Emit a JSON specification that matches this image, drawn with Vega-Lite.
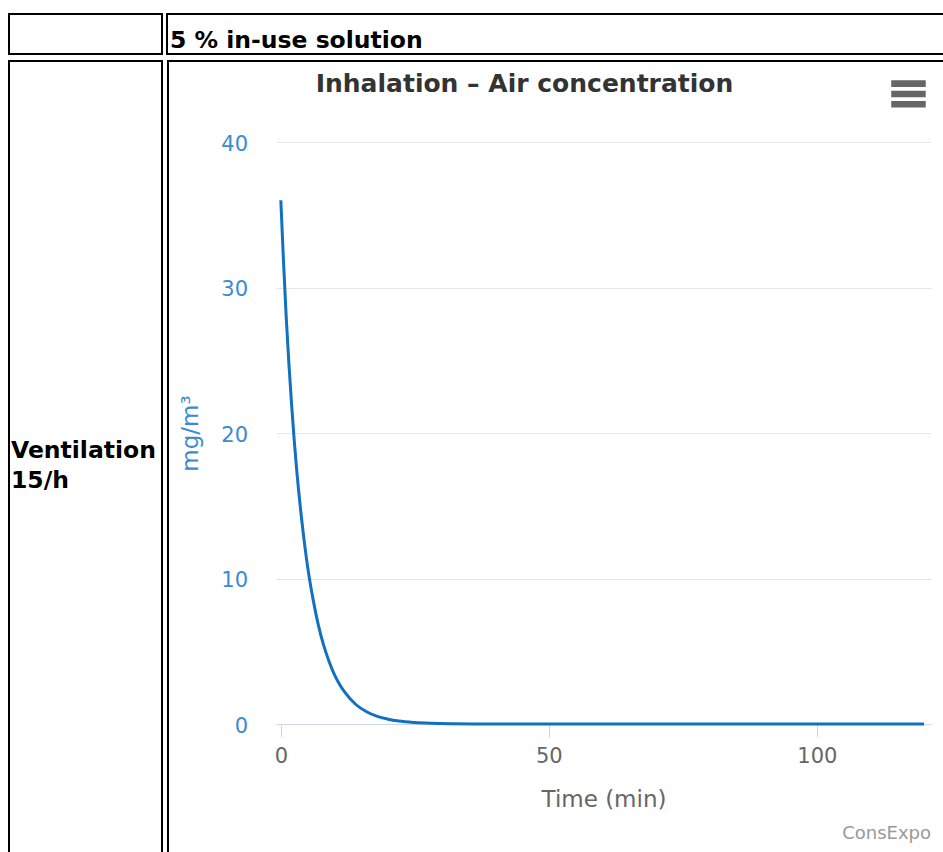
{
  "$schema": "https://vega.github.io/schema/vega-lite/v6.json",
  "padding": {"left": 8, "top": 13, "right": 0, "bottom": 0},
  "background": "white",
  "config": {
    "view": {"stroke": "black", "strokeWidth": 2},
    "font": "DejaVu Sans"
  },
  "spacing": 3,
  "hconcat": [
    {
      "spacing": 5,
      "vconcat": [
        {
          "width": 153,
          "height": 40,
          "view": {"stroke": "black", "strokeWidth": 2, "fill": null},
          "data": {"values": []},
          "mark": {"type": "point"},
          "encoding": {}
        },
        {
          "width": 153,
          "height": 793,
          "view": {"stroke": "black", "strokeWidth": 2, "fill": null},
          "data": {"values": [{"label": "Ventilation\n15/h"}]},
          "mark": {"type": "text", "align": "left", "baseline": "alphabetic", "x": 2, "y": 397, "lineBreak": "\n", "lineHeight": 30, "font": "DejaVu Sans", "fontSize": 23.5, "fontWeight": "bold", "color": "black"},
          "encoding": {"text": {"field": "label"}}
        }
      ]
    },
    {
      "spacing": 5,
      "vconcat": [
        {
          "width": 777,
          "height": 40,
          "view": {"stroke": "black", "strokeWidth": 2, "fill": null},
          "data": {"values": [{"label": "5 % in-use solution"}]},
          "mark": {"type": "text", "align": "left", "baseline": "alphabetic", "x": 3, "y": 34, "font": "DejaVu Sans", "fontSize": 23.5, "fontWeight": "bold", "color": "black"},
          "encoding": {"text": {"field": "label"}}
        },
        {
          "spacing": 0,
          "hconcat": [
            {
              "width": 2,
              "height": 796,
              "view": {"fill": "black", "stroke": null},
              "data": {"values": []},
              "mark": {"type": "point"},
              "encoding": {}
            },
            {
              "spacing": 9,
              "vconcat": [
                {
                  "width": 777,
                  "height": 2,
                  "view": {"fill": "black", "stroke": null},
                  "data": {"values": []},
                  "mark": {"type": "point"},
                  "encoding": {}
                },
                {
                  "spacing": 9,
                  "title": {"text": "ConsExpo", "orient": "bottom", "anchor": "end", "baseline": "alphabetic", "offset": 28, "fontSize": 18, "color": "#999999", "fontWeight": "normal", "font": "DejaVu Sans"},
                  "hconcat": [
                    {
                      "width": 1,
                      "height": 1,
                      "view": {"stroke": null, "fill": null},
                      "data": {"values": []},
                      "mark": {"type": "point"},
                      "encoding": {}
                    },
                    {
                      "width": 655,
                      "height": 582,
                      "view": {"stroke": null, "fill": null},
                      "title": {"text": "Inhalation – Air concentration", "anchor": "middle", "frame": "group", "dx": -79, "offset": -36.5, "baseline": "alphabetic", "fontSize": 25, "fontWeight": "bold", "color": "#333333", "font": "DejaVu Sans"},
                      "layer": [
                        {
                          "data": {"values": [
                            {"time": 0, "conc": 36.0},
                            {"time": 0.5, "conc": 31.8},
                            {"time": 1, "conc": 28.0},
                            {"time": 1.5, "conc": 24.8},
                            {"time": 2, "conc": 22.0},
                            {"time": 2.5, "conc": 19.5},
                            {"time": 3, "conc": 17.3},
                            {"time": 4, "conc": 13.7},
                            {"time": 5, "conc": 10.8},
                            {"time": 6, "conc": 8.6},
                            {"time": 7, "conc": 6.8},
                            {"time": 8, "conc": 5.4},
                            {"time": 9, "conc": 4.3},
                            {"time": 10, "conc": 3.4},
                            {"time": 11, "conc": 2.7},
                            {"time": 12, "conc": 2.15},
                            {"time": 14, "conc": 1.34},
                            {"time": 16, "conc": 0.84},
                            {"time": 18, "conc": 0.52},
                            {"time": 20, "conc": 0.33},
                            {"time": 22, "conc": 0.2},
                            {"time": 25, "conc": 0.1},
                            {"time": 28, "conc": 0.05},
                            {"time": 32, "conc": 0.02},
                            {"time": 36, "conc": 0.008},
                            {"time": 40, "conc": 0.003},
                            {"time": 50, "conc": 0},
                            {"time": 60, "conc": 0},
                            {"time": 80, "conc": 0},
                            {"time": 100, "conc": 0},
                            {"time": 120, "conc": 0}
                          ]},
                          "mark": {"type": "line", "color": "#1170c0", "strokeWidth": 3, "interpolate": "monotone"},
                          "encoding": {
                            "x": {
                              "field": "time", "type": "quantitative",
                              "scale": {"domain": [-0.9, 121.3], "nice": false, "zero": false},
                              "axis": {"title": "Time (min)", "values": [0, 50, 100], "grid": false, "domainColor": "#ccd6eb", "tickColor": "#ccd6eb", "tickSize": 13, "labelFontSize": 21, "labelColor": "#666666", "labelPadding": 8, "labelFont": "DejaVu Sans", "titleFontSize": 23, "titleColor": "#666666", "titleFontWeight": "normal", "titleFont": "DejaVu Sans", "titlePadding": 22}
                            },
                            "y": {
                              "field": "conc", "type": "quantitative",
                              "scale": {"domain": [0, 40], "nice": false},
                              "axis": {"title": "mg/m³", "values": [0, 10, 20, 30, 40], "grid": true, "gridColor": "#e6e6e6", "domain": false, "ticks": false, "tickSize": 0, "labelFontSize": 21, "labelColor": "#3b8ad3", "labelPadding": 28.5, "labelOffset": 2, "labelFont": "DejaVu Sans", "titleFontSize": 23, "titleColor": "#3b8ad3", "titleFontWeight": "normal", "titleFont": "DejaVu Sans", "titlePadding": 18}
                            }
                          }
                        },
                        {
                          "data": {"values": [{"icon": "menu", "time": 117.1, "conc": 43.3}]},
                          "mark": {"type": "point", "shape": "M-1,-0.79H1V-0.41H-1Z M-1,-0.19H1V0.19H-1Z M-1,0.41H1V0.79H-1Z", "size": 1190, "filled": true, "color": "#666666", "opacity": 1, "strokeWidth": 0},
                          "encoding": {
                            "x": {"field": "time", "type": "quantitative"},
                            "y": {"field": "conc", "type": "quantitative"}
                          }
                        }
                      ]
                    }
                  ]
                }
              ]
            }
          ]
        }
      ]
    }
  ]
}
